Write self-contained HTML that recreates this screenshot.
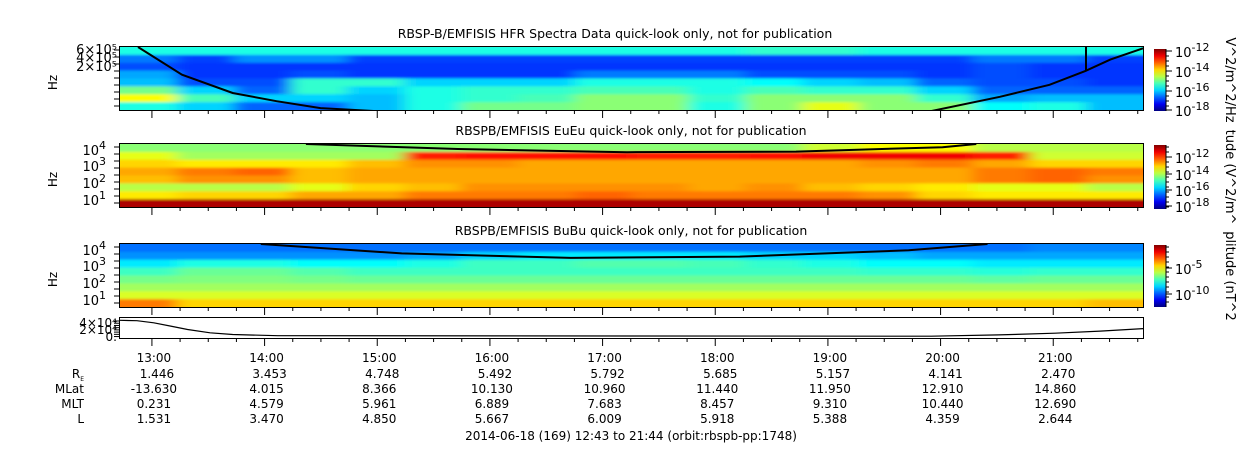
<!DOCTYPE html>
<html><head><meta charset="utf-8"><style>
body{margin:0;background:#fff;width:1250px;height:449px;overflow:hidden;font-family:"Liberation Sans","DejaVu Sans",sans-serif;}
svg text{font-family:"DejaVu Sans","Liberation Sans",sans-serif;fill:#000;}
</style></head><body>
<svg id="chart" width="1250" height="449" xmlns="http://www.w3.org/2000/svg"></svg>
<script>
// ---- data ----
const hourLabels = ["13:00","14:00","15:00","16:00","17:00","18:00","19:00","20:00","21:00"];
const rsVals   = ["1.446","3.453","4.748","5.492","5.792","5.685","5.157","4.141","2.470"];
const mlatVals = ["-13.630","4.015","8.366","10.130","10.960","11.440","11.950","12.910","14.860"];
const mltVals  = ["0.231","4.579","5.961","6.889","7.683","8.457","9.310","10.440","12.690"];
const lVals    = ["1.531","3.470","4.850","5.667","6.009","5.918","5.388","4.359","2.644"];
// spectrogram intensities (0..9 on jet scale), rows top->bottom, 18 half-hour columns
const hfrRows = [
 [3.6,3.6,3.6,3.6,3.6,3.6,3.6,3.6,3.6,3.6,3.6,3.8,3.8,3.6,3.6,3.6,3.6,3.6],
 [2.2,1.7,2.4,2.4,1.7,1.7,1.7,1.7,1.7,1.7,1.7,1.7,1.7,1.7,1.7,2.2,2.2,1.7],
 [1.8,1.6,1.6,1.6,1.6,1.6,1.6,1.6,1.6,1.6,1.6,1.6,1.6,1.6,1.6,1.8,1.6,1.6],
 [2.6,1.6,1.6,1.8,1.6,1.6,1.6,1.6,2.2,2.2,2.2,1.8,1.8,1.8,1.6,1.8,1.6,1.6],
 [2.8,1.8,1.8,3.8,3.8,3,3,3,3.6,3.6,3.6,3.4,3,2.8,2,1.8,1.8,1.6],
 [4.4,3,2,3.8,3,3.6,3.8,3.8,4,4,3.6,4,3.8,3.8,3,2,2,2],
 [5.6,4,3,3,2.8,3.6,3.8,4,4.6,4.6,3.8,4.6,4.6,4.6,3.8,2.6,2.8,2.8],
 [3.6,3,2,2,2.8,3.6,4.4,4.4,4.6,4.6,3.6,4.6,5.4,4.6,4.6,3.4,3.6,2.8]];
const euRows = [
 [4.6,4.6,4.6,4.6,4.6,4.6,4.6,4.6,4.6,4.6,4.6,4.6,5.2,5.6,5.6,5,5,5],
 [5.4,4.8,4.8,4.8,4.8,7.6,7.8,7.8,7.8,7.6,7.6,7.8,8,8,8,7.6,5.2,5.2],
 [6,5.8,5.8,5.8,6.2,6.6,6.6,6.4,6.4,6.4,6.4,6.4,6.4,6.6,6.8,6.4,6,6],
 [6.4,6.8,7,6.2,6.4,6.4,6.4,6.4,6.4,6.4,6.4,6.4,6.4,6.4,6.4,6.8,7,6.8],
 [6.2,6.6,6.6,6.2,6.4,6.4,6.4,6.4,6.4,6.4,6.4,6.4,6.4,6.4,6.4,6.8,7,6.6],
 [5,5,5,5.4,6,6.2,6.6,6.6,6.6,6.6,6.4,6.6,6.2,6,5.8,5.4,5.4,5],
 [5.8,6,6,6.4,6.4,6.8,6.8,6.8,7,6.8,6.8,6.8,6.8,6.6,6,5.8,5.8,5.8],
 [8.6,8.6,8.6,8.6,8.6,8.6,8.6,8.6,8.6,8.6,8.6,8.6,8.6,8.6,8.6,8.6,8.6,8.6]];
const buRows = [
 [2.1,2.1,2.1,2.1,2.1,2.1,2.1,2.1,2.1,2.1,2.1,2.1,2.1,2.1,2.1,2.1,2.3,2.3],
 [2.4,2.4,2.4,2.4,2.4,2.6,3,3.2,3.2,3.2,3.2,3,3,2.8,2.6,2.6,2.6,2.6],
 [3.2,3.6,3.6,3.4,3.4,3.6,3.9,3.9,4.1,4.1,4,3.8,3.6,3.4,3.4,3.2,3.2,3.2],
 [3.9,4.3,4.3,4.1,3.9,3.9,3.9,3.9,3.9,3.9,3.9,3.9,3.9,3.8,3.8,3.7,3.8,3.8],
 [4.4,4.5,4.5,4.4,4.3,4.3,4.3,4.3,4.3,4.3,4.3,4.3,4.3,4.3,4.3,4.2,4.3,4.3],
 [4.8,4.8,4.8,4.8,4.8,4.8,4.8,4.8,4.8,4.8,4.8,4.8,4.8,4.8,4.8,4.8,4.8,4.8],
 [5.3,5.3,5.3,5.3,5.3,5.3,5.3,5.3,5.3,5.3,5.3,5.3,5.3,5.3,5.3,5.3,5.3,5.3],
 [6.8,6,6,6,6,6,6,6,6,6,6,6,6,6,6,6,6,6.2]];
// overlay line: time (hours after 12:43) vs fraction of panel height from top
const hfrLineT = [0.16,0.55,1.0,1.39,1.78,2.3,7.19,7.81,8.25,8.57,8.79,9.08];
const hfrLineF = [0,0.44,0.73,0.86,0.97,1.02,1.02,0.79,0.6,0.38,0.2,0.02];
const euLineT = [1.65,3,4.5,6,7.3,7.6];
const euLineF = [0,0.08,0.13,0.12,0.05,0];
const buLineT = [1.25,2.5,4,5.5,7,7.7];
const buLineF = [0,0.15,0.22,0.2,0.1,0];
const densT = [0,0.15,0.3,0.45,0.6,0.8,1.0,1.4,7.2,7.8,8.3,8.7,9.08];
const densV = [4.0,3.9,3.4,2.6,1.8,1.0,0.6,0.3,0.2,0.5,0.9,1.4,2.0]; // x10^4

// ---- helpers ----
const svg = document.getElementById('chart');
const NS = "http://www.w3.org/2000/svg";
const X0 = 120, X1 = 1143, T1 = 9.08;
function xOf(t){ return X0 + t/T1*(X1-X0); }
function mk(tag, attrs, parent){ const e=document.createElementNS(NS,tag); for(const k in attrs) e.setAttribute(k,attrs[k]); (parent||svg).appendChild(e); return e; }
function clamp(v){ return Math.max(0,Math.min(1,v)); }
function jet(v){ const t=v/9; const r=clamp(1.5-Math.abs(4*t-3)),g=clamp(1.5-Math.abs(4*t-2)),b=clamp(1.5-Math.abs(4*t-1)); return `rgb(${Math.round(r*255)},${Math.round(g*255)},${Math.round(b*255)})`; }
function txt(x,y,s,opts){ const e=mk('text',Object.assign({x:x,y:y,'font-size':12},opts||{})); e.textContent=s; return e; }

const defs = mk('defs',{});
const f = mk('filter',{id:'soft',x:'-5%',y:'-20%',width:'110%',height:'140%'},defs);
mk('feGaussianBlur',{stdDeviation:'8 1.2'},f);

const panels = [
 {name:'hfr', y0:47, y1:110, rows:hfrRows, title:'RBSP-B/EMFISIS  HFR Spectra Data quick-look only, not for publication', tx:615, lt:hfrLineT, lf:hfrLineF},
 {name:'euu', y0:144, y1:207, rows:euRows, title:'RBSPB/EMFISIS  EuEu quick-look only, not for publication', tx:631, lt:euLineT, lf:euLineF},
 {name:'buu', y0:244, y1:307, rows:buRows, title:'RBSPB/EMFISIS  BuBu quick-look only, not for publication', tx:631, lt:buLineT, lf:buLineF}
];

panels.forEach(p=>{
  const g = mk('g',{});
  
  
  const cp = mk('clipPath',{id:'cp-'+p.name},defs);
  mk('rect',{x:X0,y:p.y0,width:X1-X0,height:p.y1-p.y0},cp);
  const hm = mk('g',{'clip-path':`url(#cp-${p.name})`},g);
  const hmInner = mk('g',{filter:'url(#soft)'},hm);
  const nR = p.rows.length, nC = p.rows[0].length, rh=(p.y1-p.y0)/nR;
  p.rows.forEach((row,ri)=>{ row.forEach((v,ci)=>{
    const xa = xOf(ci*T1/nC), xb = xOf((ci+1)*T1/nC);
    const r = mk('rect',{x:xa-(ci==0?30:0),y:p.y0+ri*rh-(ri==0?6:0),width:xb-xa+1+(ci==0?30:0)+(ci==nC-1?30:0),height:rh+1+(ri==0?6:0)+(ri==nR-1?6:0),fill:jet(v)},hmInner);
    
    
  });});
  let d=''; p.lt.forEach((t,i)=>{ d+=(i?'L':'M')+xOf(t).toFixed(1)+','+(p.y0+p.lf[i]*(p.y1-p.y0)).toFixed(1); });
  const ln = mk('path',{d:d,fill:'none',stroke:'#000','stroke-width':2},hm);
  
  
  mk('rect',{x:X0-0.5,y:p.y0-0.5,width:X1-X0+1,height:p.y1-p.y0+1,fill:'none',stroke:'#000','stroke-width':1},g);
  const tt = txt(p.tx, p.y0-9, p.title, {'text-anchor':'middle','font-size':12.5,'xml:space':'preserve'});
  
  
  const hz = txt(0,0,'Hz',{transform:`translate(57,${(p.y0+p.y1)/2+4}) rotate(-90)`,'text-anchor':'middle','font-size':12});
  
  
});
mk('line',{x1:1086,y1:47,x2:1086,y2:71,stroke:'#000','stroke-width':2});

// density panel
const dp = {y0:318, y1:338};
let dd=''; densT.forEach((t,i)=>{ dd+=(i?'L':'M')+xOf(t).toFixed(1)+','+(dp.y1-1-densV[i]/4.3*(dp.y1-dp.y0-2)).toFixed(1); });
const dl = mk('path',{d:dd,fill:'none',stroke:'#000','stroke-width':1.2});


mk('rect',{x:X0-0.5,y:dp.y0-0.5,width:X1-X0+1,height:dp.y1-dp.y0+1,fill:'none',stroke:'#000'});

// time ticks
[110,207,307,338].forEach(yb=>{
  for(let m=17;m<=T1*60;m+=15){ const major=((m-17)%60===0); const x=xOf(m/60);
    mk('line',{x1:x,y1:yb,x2:x,y2:yb+(major?8:4),stroke:'#000','stroke-width':1}); }
});

// y tick labels
txt(117,54,'6×10⁵',{'text-anchor':'end','font-size':13});
txt(117,62,'4×10⁵',{'text-anchor':'end','font-size':13});
txt(117,71,'2×10⁵',{'text-anchor':'end','font-size':13});
[[150,'4'],[166,'3'],[183,'2'],[200,'1']].forEach(a=>{ const e=txt(106,a[0]+5,'10',{'text-anchor':'end','font-size':13}); const s=mk('tspan',{dy:-6,'font-size':11},e); s.textContent=a[1]; });
[[250,'4'],[266,'3'],[283,'2'],[300,'1']].forEach(a=>{ const e=txt(106,a[0]+5,'10',{'text-anchor':'end','font-size':13}); const s=mk('tspan',{dy:-6,'font-size':11},e); s.textContent=a[1]; });
txt(117,327,'4×10⁴',{'text-anchor':'end','font-size':12});
txt(117,334,'2×10⁴',{'text-anchor':'end','font-size':12});
txt(117,341,'0.',{'text-anchor':'end','font-size':12});
[[47,110],[144,207],[244,307],[318,338]].forEach(r=>{ for(let y=r[0]+3;y<r[1];y+=(r[1]-r[0])/9){ mk('line',{x1:X0-6,y1:y,x2:X0,y2:y,stroke:'#000'}); } });

// colorbars
const cbs=[{y0:49,y1:111,labels:[[51,'-12'],[71,'-14'],[91,'-16'],[110,'-18']],title:'V^2/m^2/Hz',ty:80},
           {y0:145,y1:209,labels:[[157,'-12'],[174,'-14'],[190,'-16'],[206,'-18']],title:'tude (V^2/m^',ty:177},
           {y0:245,y1:307,labels:[[268,'-5'],[294,'-10']],title:'plitude (nT^2',ty:276}];
cbs.forEach((c,i)=>{
  const lg = mk('linearGradient',{id:'cg'+i,x1:0,y1:1,x2:0,y2:0},defs);
  for(let k=0;k<=9;k++) mk('stop',{offset:k/9,'stop-color':jet(k)},lg);
  const r=mk('rect',{x:1154,y:c.y0,width:12,height:c.y1-c.y0,fill:`url(#cg${i})`});
  
  
  mk('line',{x1:1166,y1:c.y0,x2:1166,y2:c.y1,stroke:'#000'});
  for(let y=c.y0+2;y<c.y1;y+=5) mk('line',{x1:1166,y1:y,x2:1169,y2:y,stroke:'#000'});
  c.labels.forEach(l=>{ const e=txt(1175,l[0]+6,'10',{'font-size':13}); const s=mk('tspan',{dy:-6,'font-size':11},e); s.textContent=l[1]; mk('line',{x1:1166,y1:l[0],x2:1172,y2:l[0],stroke:'#000'}); });
  const t=txt(0,0,c.title,{transform:`translate(1226,${c.ty}) rotate(90)`,'text-anchor':'middle','font-size':13});
  
  
});

// bottom table
hourLabels.forEach((h,i)=>{ const x=xOf((17+60*i)/60)+2;
  txt(x,362,h,{'text-anchor':'middle'});
  txt(x+3,378,rsVals[i],{'text-anchor':'middle'});
  txt(x,393,mlatVals[i],{'text-anchor':'middle'});
  txt(x,408,mltVals[i],{'text-anchor':'middle'});
  txt(x,423,lVals[i],{'text-anchor':'middle'});
});
const rl=txt(84,378,'R',{'text-anchor':'end'}); const rs=mk('tspan',{dy:3,'font-size':6},rl); rs.textContent='E';
txt(84,393,'MLat',{'text-anchor':'end'});
txt(84,408,'MLT',{'text-anchor':'end'});
txt(84,423,'L',{'text-anchor':'end'});
const bt=txt(631,440,'2014-06-18 (169) 12:43 to 21:44 (orbit:rbspb-pp:1748)',{'text-anchor':'middle'});


</script>
</body></html>
